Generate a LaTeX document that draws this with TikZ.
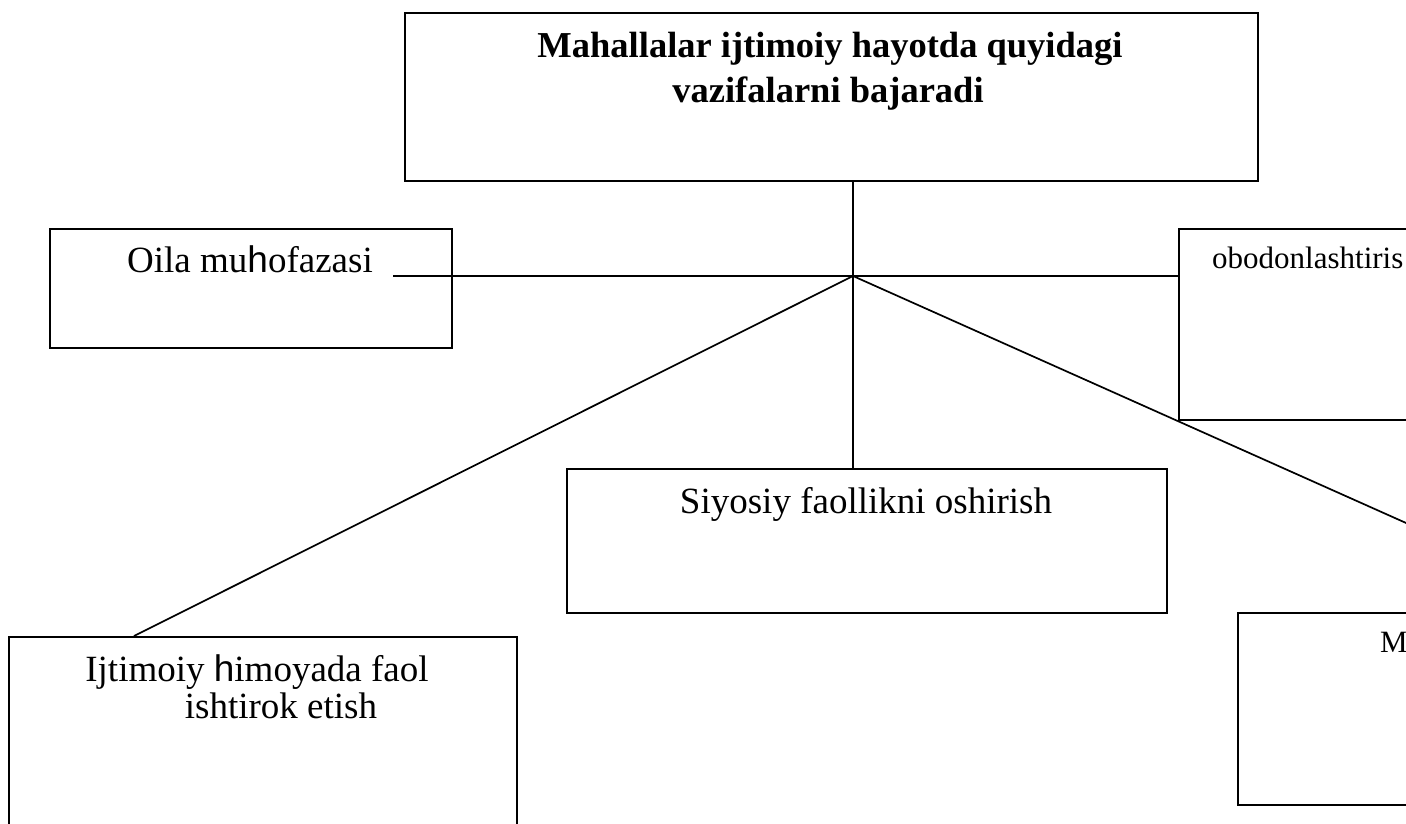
\documentclass[tikz,border=0pt]{standalone}
\usepackage{fontspec}
\setmainfont{Liberation Serif}
\newfontfamily\hsans{Liberation Sans}
\newcommand{\shh}{{\hsans һ}}
\begin{document}
\begin{tikzpicture}[x=1pt,y=-1pt,
  box/.style={draw,line width=2pt,inner sep=0pt},
  link/.style={line width=1.7pt},
  body/.style={inner sep=0pt,font=\fontsize{37}{45}\selectfont},
  smallbody/.style={inner sep=0pt,font=\fontsize{31}{36}\selectfont},
  titletext/.style={inner sep=0pt,font=\fontsize{36.5}{45}\selectfont\bfseries}]
\useasboundingbox (0,0) rectangle (1406,823);
\clip (0,0) rectangle (1406,823);
\fill[white] (0,0) rectangle (1406,823);
% boxes
\node[box,minimum width=853pt,minimum height=168pt,anchor=north west] (title) at (404,12) {};
\node[box,minimum width=402pt,minimum height=119pt,anchor=north west] (oila) at (49,228) {};
\node[box,minimum width=240pt,minimum height=191pt,anchor=north west] (obod) at (1178,228) {};
\node[box,minimum width=600pt,minimum height=144pt,anchor=north west] (siyo) at (566,468) {};
\node[box,minimum width=508pt,minimum height=210pt,anchor=north west] (ijt) at (8,636) {};
\node[box,minimum width=190pt,minimum height=192pt,anchor=north west] (mbox) at (1237,612) {};
% texts
\node[titletext,anchor=base] (t1) at (830,57) {Mahallalar ijtimoiy hayotda quyidagi};
\node[titletext,anchor=base] (t2) at (828,102) {vazifalarni bajaradi};
\node[body,anchor=base] (oilat) at (250,272) {Oila mu\shh ofazasi};
\node[smallbody,anchor=base west] (obodt) at (1212,268) {obodonlashtiris};
\node[body,anchor=base] (siyot) at (866,513) {Siyosiy faollikni oshirish};
\node[body,anchor=base] (ijt1) at (257,681) {Ijtimoiy \shh imoyada faol};
\node[body,anchor=base] (ijt2) at (281,718) {ishtirok etish};
\node[smallbody,anchor=base west] (mt) at (1380,652) {M};
% connectors
\coordinate (hub) at (853,276);
\coordinate (hleft) at (393,276);
\coordinate (ijttop) at (134,636);
\coordinate (rightend) at (1480,556);
\draw[link] (title.south -| hub) -- (hub);
\draw[link] (hub) -- (siyo.north -| hub);
\draw[link] (hleft) -- (hub) -- (obod.west |- hub);
\draw[link] (hub) -- (ijttop);
\draw[link] (hub) -- (rightend);
\end{tikzpicture}
\end{document}
